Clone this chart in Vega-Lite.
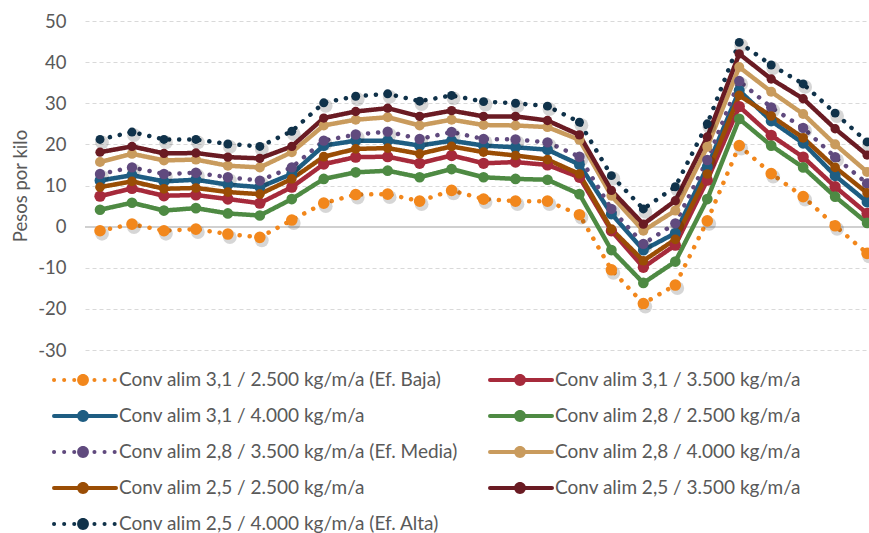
{
  "$schema": "https://vega.github.io/schema/vega-lite/v6.json",
  "width": 784,
  "height": 329,
  "autosize": "none",
  "padding": {"left": 85, "top": 21, "right": 0, "bottom": 183},
  "datasets": {
    "names": [
      {"s": "A", "serie": "Conv alim 3,1 / 2.500 kg/m/a (Ef. Baja)"},
      {"s": "B", "serie": "Conv alim 3,1 / 3.500 kg/m/a"},
      {"s": "C", "serie": "Conv alim 3,1 / 4.000 kg/m/a"},
      {"s": "D", "serie": "Conv alim 2,8 / 2.500 kg/m/a"},
      {"s": "E", "serie": "Conv alim 2,8 / 3.500 kg/m/a (Ef. Media)"},
      {"s": "F", "serie": "Conv alim 2,8 / 4.000 kg/m/a"},
      {"s": "G", "serie": "Conv alim 2,5 / 2.500 kg/m/a"},
      {"s": "H", "serie": "Conv alim 2,5 / 3.500 kg/m/a"},
      {"s": "I", "serie": "Conv alim 2,5 / 4.000 kg/m/a (Ef. Alta)"}
    ],
    "pesos": [
      {"s":"A","x":1,"v":-1.0},{"s":"A","x":2,"v":0.6},{"s":"A","x":3,"v":-1.0},{"s":"A","x":4,"v":-0.6},{"s":"A","x":5,"v":-1.8},
      {"s":"A","x":6,"v":-2.6},{"s":"A","x":7,"v":1.6},{"s":"A","x":8,"v":5.7},{"s":"A","x":9,"v":7.8},{"s":"A","x":10,"v":7.9},
      {"s":"A","x":11,"v":6.2},{"s":"A","x":12,"v":8.8},{"s":"A","x":13,"v":6.7},{"s":"A","x":14,"v":6.2},{"s":"A","x":15,"v":6.2},
      {"s":"A","x":16,"v":2.9},{"s":"A","x":17,"v":-10.5},{"s":"A","x":18,"v":-18.7},{"s":"A","x":19,"v":-14.2},{"s":"A","x":20,"v":1.4},
      {"s":"A","x":21,"v":19.7},{"s":"A","x":22,"v":12.9},{"s":"A","x":23,"v":7.3},{"s":"A","x":24,"v":0.2},{"s":"A","x":25,"v":-6.5},

      {"s":"B","x":1,"v":7.4},{"s":"B","x":2,"v":9.3},{"s":"B","x":3,"v":7.5},{"s":"B","x":4,"v":7.7},{"s":"B","x":5,"v":6.7},
      {"s":"B","x":6,"v":5.7},{"s":"B","x":7,"v":9.6},{"s":"B","x":8,"v":15.2},{"s":"B","x":9,"v":16.9},{"s":"B","x":10,"v":17.0},
      {"s":"B","x":11,"v":15.4},{"s":"B","x":12,"v":17.3},{"s":"B","x":13,"v":15.4},{"s":"B","x":14,"v":15.7},{"s":"B","x":15,"v":15.0},
      {"s":"B","x":16,"v":12.0},{"s":"B","x":17,"v":-1.0},{"s":"B","x":18,"v":-9.9},{"s":"B","x":19,"v":-4.5},{"s":"B","x":20,"v":11.3},
      {"s":"B","x":21,"v":29.2},{"s":"B","x":22,"v":22.2},{"s":"B","x":23,"v":16.9},{"s":"B","x":24,"v":9.7},{"s":"B","x":25,"v":3.2},

      {"s":"C","x":1,"v":11.2},{"s":"C","x":2,"v":12.5},{"s":"C","x":3,"v":11.0},{"s":"C","x":4,"v":11.4},{"s":"C","x":5,"v":10.2},
      {"s":"C","x":6,"v":9.6},{"s":"C","x":7,"v":12.8},{"s":"C","x":8,"v":19.7},{"s":"C","x":9,"v":20.9},{"s":"C","x":10,"v":20.9},
      {"s":"C","x":11,"v":19.7},{"s":"C","x":12,"v":20.9},{"s":"C","x":13,"v":19.7},{"s":"C","x":14,"v":19.3},{"s":"C","x":15,"v":18.7},
      {"s":"C","x":16,"v":15.1},{"s":"C","x":17,"v":3.1},{"s":"C","x":18,"v":-5.7},{"s":"C","x":19,"v":-1.6},{"s":"C","x":20,"v":14.5},
      {"s":"C","x":21,"v":33.1},{"s":"C","x":22,"v":25.7},{"s":"C","x":23,"v":20.3},{"s":"C","x":24,"v":12.4},{"s":"C","x":25,"v":6.0},

      {"s":"D","x":1,"v":4.1},{"s":"D","x":2,"v":5.8},{"s":"D","x":3,"v":3.9},{"s":"D","x":4,"v":4.5},{"s":"D","x":5,"v":3.2},
      {"s":"D","x":6,"v":2.7},{"s":"D","x":7,"v":6.7},{"s":"D","x":8,"v":11.6},{"s":"D","x":9,"v":13.2},{"s":"D","x":10,"v":13.6},
      {"s":"D","x":11,"v":12.0},{"s":"D","x":12,"v":14.0},{"s":"D","x":13,"v":12.0},{"s":"D","x":14,"v":11.6},{"s":"D","x":15,"v":11.4},
      {"s":"D","x":16,"v":7.9},{"s":"D","x":17,"v":-5.7},{"s":"D","x":18,"v":-13.7},{"s":"D","x":19,"v":-8.5},{"s":"D","x":20,"v":6.7},
      {"s":"D","x":21,"v":26.2},{"s":"D","x":22,"v":19.7},{"s":"D","x":23,"v":14.4},{"s":"D","x":24,"v":7.3},{"s":"D","x":25,"v":0.9},

      {"s":"E","x":1,"v":12.8},{"s":"E","x":2,"v":14.4},{"s":"E","x":3,"v":12.8},{"s":"E","x":4,"v":13.1},{"s":"E","x":5,"v":12.0},
      {"s":"E","x":6,"v":11.2},{"s":"E","x":7,"v":14.4},{"s":"E","x":8,"v":20.9},{"s":"E","x":9,"v":22.4},{"s":"E","x":10,"v":23.1},
      {"s":"E","x":11,"v":21.3},{"s":"E","x":12,"v":23.0},{"s":"E","x":13,"v":21.3},{"s":"E","x":14,"v":21.2},{"s":"E","x":15,"v":20.5},
      {"s":"E","x":16,"v":17.0},{"s":"E","x":17,"v":4.3},{"s":"E","x":18,"v":-4.2},{"s":"E","x":19,"v":0.8},{"s":"E","x":20,"v":16.2},
      {"s":"E","x":21,"v":35.4},{"s":"E","x":22,"v":29.0},{"s":"E","x":23,"v":24.0},{"s":"E","x":24,"v":16.9},{"s":"E","x":25,"v":10.5},

      {"s":"F","x":1,"v":15.7},{"s":"F","x":2,"v":17.7},{"s":"F","x":3,"v":16.1},{"s":"F","x":4,"v":16.3},{"s":"F","x":5,"v":14.8},
      {"s":"F","x":6,"v":14.4},{"s":"F","x":7,"v":18.1},{"s":"F","x":8,"v":24.6},{"s":"F","x":9,"v":26.0},{"s":"F","x":10,"v":26.6},
      {"s":"F","x":11,"v":24.6},{"s":"F","x":12,"v":26.0},{"s":"F","x":13,"v":24.7},{"s":"F","x":14,"v":24.6},{"s":"F","x":15,"v":24.2},
      {"s":"F","x":16,"v":21.1},{"s":"F","x":17,"v":7.5},{"s":"F","x":18,"v":-1.0},{"s":"F","x":19,"v":3.9},{"s":"F","x":20,"v":19.4},
      {"s":"F","x":21,"v":38.8},{"s":"F","x":22,"v":32.8},{"s":"F","x":23,"v":27.4},{"s":"F","x":24,"v":20.0},{"s":"F","x":25,"v":13.3},

      {"s":"G","x":1,"v":9.6},{"s":"G","x":2,"v":11.0},{"s":"G","x":3,"v":9.2},{"s":"G","x":4,"v":9.4},{"s":"G","x":5,"v":8.4},
      {"s":"G","x":6,"v":7.9},{"s":"G","x":7,"v":11.6},{"s":"G","x":8,"v":17.0},{"s":"G","x":9,"v":18.9},{"s":"G","x":10,"v":19.1},
      {"s":"G","x":11,"v":17.7},{"s":"G","x":12,"v":19.5},{"s":"G","x":13,"v":18.1},{"s":"G","x":14,"v":17.3},{"s":"G","x":15,"v":16.3},
      {"s":"G","x":16,"v":12.8},{"s":"G","x":17,"v":-0.6},{"s":"G","x":18,"v":-8.3},{"s":"G","x":19,"v":-3.1},{"s":"G","x":20,"v":12.8},
      {"s":"G","x":21,"v":31.9},{"s":"G","x":22,"v":26.9},{"s":"G","x":23,"v":21.6},{"s":"G","x":24,"v":14.4},{"s":"G","x":25,"v":8.2},

      {"s":"H","x":1,"v":18.1},{"s":"H","x":2,"v":19.5},{"s":"H","x":3,"v":17.8},{"s":"H","x":4,"v":17.9},{"s":"H","x":5,"v":16.9},
      {"s":"H","x":6,"v":16.6},{"s":"H","x":7,"v":19.5},{"s":"H","x":8,"v":26.4},{"s":"H","x":9,"v":28.0},{"s":"H","x":10,"v":28.8},
      {"s":"H","x":11,"v":26.8},{"s":"H","x":12,"v":28.2},{"s":"H","x":13,"v":26.8},{"s":"H","x":14,"v":26.8},{"s":"H","x":15,"v":25.8},
      {"s":"H","x":16,"v":22.3},{"s":"H","x":17,"v":8.8},{"s":"H","x":18,"v":0.6},{"s":"H","x":19,"v":6.3},{"s":"H","x":20,"v":21.8},
      {"s":"H","x":21,"v":42.0},{"s":"H","x":22,"v":35.9},{"s":"H","x":23,"v":31.1},{"s":"H","x":24,"v":23.8},{"s":"H","x":25,"v":17.4},

      {"s":"I","x":1,"v":21.2},{"s":"I","x":2,"v":23.0},{"s":"I","x":3,"v":21.2},{"s":"I","x":4,"v":21.2},{"s":"I","x":5,"v":20.1},
      {"s":"I","x":6,"v":19.5},{"s":"I","x":7,"v":23.2},{"s":"I","x":8,"v":30.1},{"s":"I","x":9,"v":31.7},{"s":"I","x":10,"v":32.3},
      {"s":"I","x":11,"v":30.5},{"s":"I","x":12,"v":31.9},{"s":"I","x":13,"v":30.4},{"s":"I","x":14,"v":30.0},{"s":"I","x":15,"v":29.3},
      {"s":"I","x":16,"v":25.4},{"s":"I","x":17,"v":12.4},{"s":"I","x":18,"v":4.3},{"s":"I","x":19,"v":9.7},{"s":"I","x":20,"v":25.0},
      {"s":"I","x":21,"v":44.8},{"s":"I","x":22,"v":39.3},{"s":"I","x":23,"v":34.7},{"s":"I","x":24,"v":27.6},{"s":"I","x":25,"v":20.6}
    ]
  },
  "data": {"name": "pesos"},
  "transform": [
    {"lookup": "s", "from": {"data": {"name": "names"}, "key": "s", "fields": ["serie"]}}
  ],
  "encoding": {
    "x": {
      "field": "x",
      "type": "quantitative",
      "scale": {"domain": [0.53, 25.06], "nice": false, "zero": false},
      "axis": null
    },
    "y": {
      "field": "v",
      "type": "quantitative",
      "scale": {"domain": [-30, 50], "nice": false},
      "axis": {
        "title": "Pesos por kilo",
        "values": [-30, -20, -10, 0, 10, 20, 30, 40, 50],
        "labelExpr": "'' + datum.value",
        "domain": false,
        "ticks": false,
        "tickSize": 0,
        "labelPadding": 19,
        "labelFont": "Lato",
        "labelFontSize": 18.5,
        "labelColor": "#595959",
        "titleFont": "Lato",
        "titleFontSize": 18.5,
        "titleFontWeight": "normal",
        "titleColor": "#595959",
        "titlePadding": 7,
        "gridColor": "#D9D9D9",
        "gridDash": [4, 3],
        "gridWidth": 1
      }
    }
  },
  "layer": [
    {
      "mark": {"type": "rule", "color": "#D0D0D0", "strokeWidth": 1.2},
      "encoding": {"y": {"datum": 0}, "x": {"value": 0}, "x2": {"value": 784}}
    },
    {
      "mark": {"type": "line", "strokeWidth": 4.5, "strokeCap": "round", "strokeJoin": "round"},
      "encoding": {
        "color": {
          "field": "serie",
          "type": "nominal",
          "scale": {
            "domain": [
              "Conv alim 3,1 / 2.500 kg/m/a (Ef. Baja)",
              "Conv alim 3,1 / 3.500 kg/m/a",
              "Conv alim 3,1 / 4.000 kg/m/a",
              "Conv alim 2,8 / 2.500 kg/m/a",
              "Conv alim 2,8 / 3.500 kg/m/a (Ef. Media)",
              "Conv alim 2,8 / 4.000 kg/m/a",
              "Conv alim 2,5 / 2.500 kg/m/a",
              "Conv alim 2,5 / 3.500 kg/m/a",
              "Conv alim 2,5 / 4.000 kg/m/a (Ef. Alta)"
            ],
            "range": ["#F2871C", "#A62A3B", "#1E5D82", "#4E8A43", "#604A7E", "#C99B5D", "#9A4D05", "#6A1B23", "#10324A"]
          },
          "legend": {
            "title": null,
            "orient": "none",
            "direction": "horizontal",
            "legendX": -33,
            "legendY": 349,
            "columns": 2,
            "columnPadding": 30,
            "rowPadding": 16,
            "clipHeight": 20,
            "symbolType": "M-1,0H1",
            "symbolSize": 3844,
            "symbolStrokeWidth": 4,
            "labelOffset": 1,
            "labelFont": "Lato",
            "labelFontSize": 19,
            "labelColor": "#595959",
            "labelLimit": 450,
            "encode": {
              "symbols": {"update": {"strokeCap": {"value": "round"}}}
            }
          }
        },
        "strokeDash": {
          "field": "serie",
          "type": "nominal",
          "scale": {
            "domain": [
              "Conv alim 3,1 / 2.500 kg/m/a (Ef. Baja)",
              "Conv alim 3,1 / 3.500 kg/m/a",
              "Conv alim 3,1 / 4.000 kg/m/a",
              "Conv alim 2,8 / 2.500 kg/m/a",
              "Conv alim 2,8 / 3.500 kg/m/a (Ef. Media)",
              "Conv alim 2,8 / 4.000 kg/m/a",
              "Conv alim 2,5 / 2.500 kg/m/a",
              "Conv alim 2,5 / 3.500 kg/m/a",
              "Conv alim 2,5 / 4.000 kg/m/a (Ef. Alta)"
            ],
            "range": [[0.1, 10], [1, 0], [1, 0], [1, 0], [0.1, 10], [1, 0], [1, 0], [1, 0], [0.1, 10]]
          }
        }
      }
    },
    {
      "transform": [{"filter": {"field": "s", "oneOf": ["A", "E", "I"]}}],
      "mark": {"type": "point", "filled": true, "shape": "circle", "color": "#000000", "opacity": 0.16, "size": 190, "xOffset": 2, "yOffset": 3},
      "encoding": {"detail": {"field": "serie"}}
    },
    {
      "mark": {"type": "point", "filled": true, "shape": "circle", "opacity": 1, "strokeWidth": 0},
      "encoding": {
        "fill": {
          "field": "serie",
          "type": "nominal",
          "sort": null,
          "scale": {
            "range": ["#F2871C", "#A62A3B", "#1E5D82", "#4E8A43", "#604A7E", "#C99B5D", "#9A4D05", "#6A1B23", "#10324A"]
          },
          "legend": {
            "title": null,
            "orient": "none",
            "direction": "horizontal",
            "legendX": -33,
            "legendY": 349,
            "columns": 2,
            "columnPadding": 374,
            "rowPadding": 16,
            "clipHeight": 20,
            "symbolType": "M0.19,0A0.19,0.19,0,1,1,-0.19,0A0.19,0.19,0,1,1,0.19,0Z",
            "symbolSize": 3844,
            "symbolStrokeWidth": 0,
            "symbolStrokeColor": "transparent",
            "labelOffset": 1,
            "labelExpr": "''",
            "labelFont": "Lato",
            "labelFontSize": 19,
            "labelColor": "transparent"
          }
        },
        "size": {
          "field": "s",
          "type": "nominal",
          "scale": {
            "domain": ["A", "B", "C", "D", "E", "F", "G", "H", "I"],
            "range": [135, 80, 80, 80, 135, 80, 80, 80, 135]
          },
          "legend": null
        }
      }
    }
  ],
  "resolve": {"scale": {"fill": "independent"}},
  "config": {
    "view": {"stroke": null},
    "font": "Lato"
  }
}
